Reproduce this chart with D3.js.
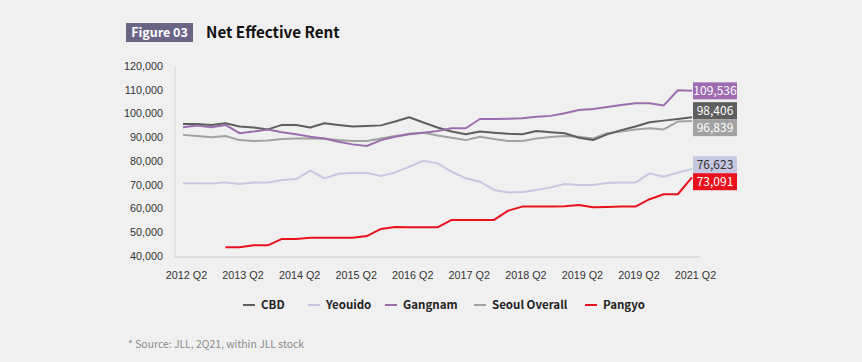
<!DOCTYPE html>
<html>
<head>
<meta charset="utf-8">
<script src="https://cdn.jsdelivr.net/npm/d3@7"></script>
<style>
  body{margin:0;background:#f0f0f0;}
  svg{display:block;font-family:"Noto Sans CJK KR","Noto Sans",sans-serif;}
</style>
</head>
<body>
<svg id="chart" width="862" height="362"></svg>
<script>
const quarters = ["2012Q2","2012Q3","2012Q4","2013Q1","2013Q2","2013Q3","2013Q4","2014Q1","2014Q2","2014Q3","2014Q4","2015Q1",
  "2015Q2","2015Q3","2015Q4","2016Q1","2016Q2","2016Q3","2016Q4","2017Q1","2017Q2","2017Q3","2017Q4","2018Q1",
  "2018Q2","2018Q3","2018Q4","2019Q1","2019Q2","2019Q3","2019Q4","2020Q1","2020Q2","2020Q3","2020Q4","2021Q1","2021Q2"];
const tickQuarters = ["2012Q2","2013Q2","2014Q2","2015Q2","2016Q2","2017Q2","2018Q2","2019Q2","2020Q2","2021Q2"];
const tickLabels = ["2012 Q2","2013 Q2","2014 Q2","2015 Q2","2016 Q2","2017 Q2","2018 Q2","2019 Q2","2019 Q2","2021 Q2"];
const yTicks = [40000,50000,60000,70000,80000,90000,100000,110000,120000];

const seriesNames = ["CBD","Yeouido","Gangnam","Seoul Overall","Pangyo"];
const seriesColors = ["#5e5e5e","#c5c8e0","#9d6cb0","#a2a2a2","#e8121c"];

const cbd = [95600,95600,95200,95900,94500,94100,93300,95200,95200,94100,95900,95200,94500,94700,95000,96600,98400,96200,94100,92400,
  91300,92400,91900,91500,91300,92600,92100,91700,89800,88800,91200,93000,94500,96300,97000,97700,98406];
const yeouido = [70600,70600,70500,71000,70300,70900,70900,72000,72400,75900,72700,74600,75000,75000,73700,75200,77600,80100,79000,75500,
  72700,71300,67800,66700,66900,67800,68900,70300,69900,69900,70700,70900,70900,74800,73400,75100,76623];
const gangnam = [94200,94900,94200,95200,91700,92400,93300,92100,91300,90200,89500,88100,87000,86300,88800,90200,91300,91900,92600,93800,
  93800,97700,97700,97800,98000,98600,99000,100100,101500,101900,102700,103600,104300,104300,103400,109800,109536];
const seoul = [91000,90500,90000,90500,88800,88400,88600,89300,89500,89500,89400,88800,88400,88400,89500,90500,91500,91900,90700,89800,
  88800,90200,89300,88400,88400,89500,90100,90500,90200,89500,91700,92400,93300,93800,93300,96600,96839];
const pangyo = [null,null,null,43700,43700,44500,44500,47200,47200,47700,47700,47700,47700,48400,51400,52200,52100,52100,52100,55200,
  55200,55200,55200,59100,60800,60800,60800,60900,61500,60500,60600,60800,60800,63900,66000,66000,73091];

const seriesValues = [cbd,yeouido,gangnam,seoul,pangyo];
const endLabels = ["98,406","76,623","109,536","96,839","73,091"];
const endTextColors = ["#fff","#333","#fff","#fff","#fff"];

const svg = d3.select("#chart");

// title
svg.append("rect").attr("x",126).attr("y",23).attr("width",67).attr("height",19).attr("fill","#6b6585");
svg.append("text").attr("x",159.5).attr("y",37).attr("text-anchor","middle")
   .attr("fill","#fff").style("font-size","12.5px").style("font-weight","bold").text("Figure 03");
svg.append("text").attr("x",206).attr("y",38).attr("fill","#111")
   .style("font-size","15.2px").style("font-weight","bold").text("Net Effective Rent");

const x = d3.scalePoint().domain(quarters).range([183,692]);
const y = d3.scaleLinear().domain([40000,120000]).range([256,66]);

// axes lines
svg.append("line").attr("x1",175).attr("x2",175).attr("y1",66).attr("y2",257).attr("stroke","#d6d6d6");
svg.append("line").attr("x1",175).attr("x2",700).attr("y1",257).attr("y2",257).attr("stroke","#d6d6d6").attr("stroke-width",1.5);

const yAxis = svg.append("g").attr("transform","translate(175,0)")
  .call(d3.axisLeft(y).tickValues(yTicks).tickSize(0).tickPadding(12).tickFormat(d3.format(",")));
yAxis.select(".domain").remove();
yAxis.selectAll("text").attr("fill","#333").style("font-size","10.8px").style("font-family","inherit");

const xAxis = svg.append("g").attr("transform","translate(3,257)")
  .call(d3.axisBottom(x).tickValues(tickQuarters).tickSize(0).tickPadding(14)
        .tickFormat((d,i)=>tickLabels[i]));
xAxis.select(".domain").remove();
xAxis.selectAll("text").attr("fill","#333").style("font-size","10.8px").style("font-weight","500").style("font-family","inherit");

// lines
const line = d3.line().defined(d=>d!=null).x((d,i)=>x(quarters[i])).y(d=>y(d));
const drawOrder = [3,1,0,2,4];
drawOrder.forEach(s=>{
  svg.append("path").datum(seriesValues[s]).attr("d",line)
     .attr("fill","none").attr("stroke",seriesColors[s]).attr("stroke-width",2)
     .attr("stroke-linejoin","round");
});

// end labels with simple collision resolution
const boxH = 17;
let labs = seriesValues.map((v,s)=>({s:s, y:y(v[v.length-1])})).sort((a,b)=>a.y-b.y);
for(let iter=0;iter<50;iter++){
  for(let i=1;i<labs.length;i++){
    const gap = labs[i].y-labs[i-1].y;
    if(gap<boxH){
      const push=(boxH-gap)/2;
      labs[i].y+=push; labs[i-1].y-=push;
    }
  }
}
labs.forEach(l=>{
  const g = svg.append("g").attr("transform",`translate(693,${l.y})`);
  g.append("rect").attr("x",0).attr("y",-boxH/2).attr("width",44).attr("height",boxH).attr("fill",seriesColors[l.s]);
  g.append("text").attr("x",22).attr("y",4.5).attr("text-anchor","middle")
   .attr("fill",endTextColors[l.s]).style("font-size","12px").text(endLabels[l.s]);
});

// legend
const legendX = [243,308,385,474,585];
const legend = svg.append("g").attr("transform","translate(0,305)");
seriesNames.forEach((n,i)=>{
  legend.append("line").attr("x1",legendX[i]).attr("x2",legendX[i]+12).attr("y1",0).attr("y2",0)
        .attr("stroke",seriesColors[i]).attr("stroke-width",2);
  legend.append("text").attr("x",legendX[i]+18).attr("y",4).attr("fill","#222")
        .style("font-size","11.5px").style("font-weight","bold").text(n);
});

svg.append("text").attr("x",128).attr("y",348).attr("fill","#8a8a8a").style("font-size","10.4px")
   .text("* Source: JLL, 2Q21, within JLL stock");
</script>
</body>
</html>
